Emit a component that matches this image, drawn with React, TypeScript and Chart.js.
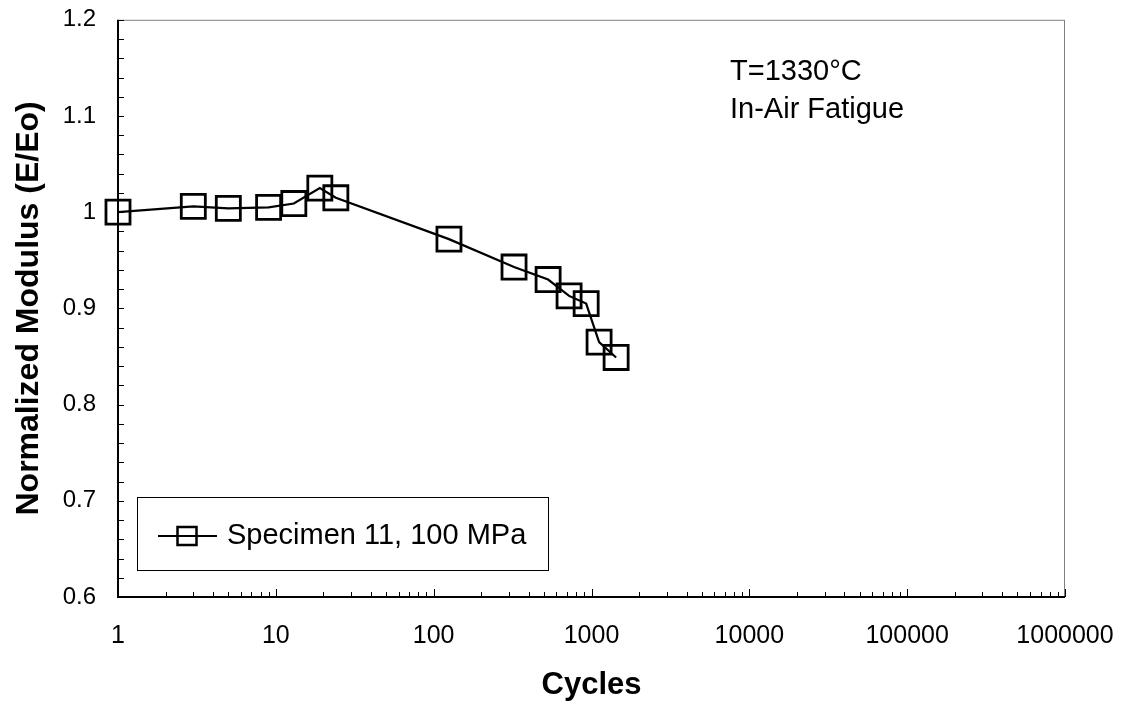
import React, { useEffect, useRef } from 'react';
import { Chart, registerables } from 'chart.js';

Chart.register(...registerables);

// ---- data ----
const cycles = [1, 3, 5, 9, 13, 19, 24, 125, 323, 531, 721, 925, 1117, 1432];
const modulus = [1.0, 1.006, 1.004, 1.005, 1.009, 1.025, 1.015, 0.972, 0.943, 0.93, 0.913, 0.905, 0.865, 0.849];
const seriesLabel = 'Specimen 11, 100 MPa';
const xTickValues = [1, 10, 100, 1000, 10000, 100000, 1000000];
const yTickValues = [0.6, 0.7, 0.8, 0.9, 1.0, 1.1, 1.2];
const yMinorStep = 0.02;
const xMinorMultipliers = [2, 3, 4, 5, 6, 7, 8, 9];
const annotationLines = ['T=1330°C', 'In-Air Fatigue'];
const xTitle = 'Cycles';
const yTitle = 'Normalized Modulus (E/Eo)';

const FONT = '"Liberation Sans", Arial, sans-serif';

const decorPlugin = {
  id: 'decor',
  beforeDatasetsDraw(chart: any) {
    const { ctx, chartArea: a, scales } = chart;
    const xs = scales.x;
    const ys = scales.y;
    ctx.save();
    // plot border
    ctx.strokeStyle = '#808080';
    ctx.lineWidth = 1;
    ctx.strokeRect(a.left + 0.5, a.top + 0.5, a.right - a.left - 1, a.bottom - a.top - 1);
    // ticks
    ctx.strokeStyle = '#000';
    ctx.lineWidth = 1;
    ctx.beginPath();
    const yMin = yTickValues[0];
    const yMax = yTickValues[yTickValues.length - 1];
    const nY = Math.round((yMax - yMin) / yMinorStep);
    for (let i = 0; i <= nY; i++) {
      const v = yMin + i * yMinorStep;
      const y = Math.round(ys.getPixelForValue(v)) + 0.5;
      ctx.moveTo(a.left, y);
      ctx.lineTo(a.left + 6, y);
    }
    const xMax = xTickValues[xTickValues.length - 1];
    for (const d of xTickValues) {
      const x = Math.round(xs.getPixelForValue(d)) + 0.5;
      ctx.moveTo(x, a.bottom);
      ctx.lineTo(x, a.bottom - 8);
      for (const m of xMinorMultipliers) {
        const v = d * m;
        if (v > xMax) continue;
        const xm = Math.round(xs.getPixelForValue(v)) + 0.5;
        ctx.moveTo(xm, a.bottom);
        ctx.lineTo(xm, a.bottom - 5);
      }
    }
    ctx.stroke();
    // axis lines
    ctx.lineWidth = 2;
    ctx.beginPath();
    ctx.moveTo(a.left, a.top);
    ctx.lineTo(a.left, a.bottom);
    ctx.lineTo(a.right, a.bottom);
    ctx.stroke();
    ctx.restore();
  },
  afterDraw(chart: any) {
    const { ctx } = chart;
    ctx.save();
    // annotation
    ctx.fillStyle = '#000';
    ctx.font = `29px ${FONT}`;
    ctx.textAlign = 'left';
    ctx.textBaseline = 'alphabetic';
    annotationLines.forEach((t, i) => ctx.fillText(t, 730, 80 + i * 38));
    // legend
    const bx = 137.5, by = 497.5, bw = 411, bh = 73;
    ctx.fillStyle = '#fff';
    ctx.fillRect(bx, by, bw, bh);
    ctx.strokeStyle = '#000';
    ctx.lineWidth = 1;
    ctx.strokeRect(bx, by, bw, bh);
    const ly = 536;
    ctx.lineWidth = 2;
    ctx.beginPath();
    ctx.moveTo(158, ly);
    ctx.lineTo(217, ly);
    ctx.stroke();
    ctx.lineWidth = 2.5;
    ctx.strokeRect(187 - 9.5, ly - 9, 19, 18);
    ctx.fillStyle = '#000';
    ctx.font = `29px ${FONT}`;
    ctx.textBaseline = 'middle';
    ctx.fillText(chart.data.datasets[0].label, 227, ly);
    ctx.restore();
  },
};

export default function App() {
  const ref = useRef<HTMLCanvasElement | null>(null);
  useEffect(() => {
    document.body.style.margin = '0';
    const canvas = ref.current!;
    const chart = new Chart(canvas, {
      type: 'line',
      data: {
        datasets: [
          {
            label: seriesLabel,
            data: cycles.map((c, i) => ({ x: c, y: modulus[i] })),
            borderColor: '#000',
            borderWidth: 2.2,
            tension: 0,
            pointStyle: 'rect',
            pointRadius: 17,
            pointHoverRadius: 17,
            pointBorderWidth: 2.8,
            pointBorderColor: '#000',
            pointBackgroundColor: 'rgba(0,0,0,0)',
            clip: false as any,
          },
        ],
      },
      options: {
        responsive: false,
        animation: false,
        events: [],
        layout: { padding: { left: 0, top: 18, right: 58, bottom: 0 } },
        plugins: {
          legend: { display: false },
          tooltip: { enabled: false },
        },
        scales: {
          x: {
            type: 'logarithmic',
            min: xTickValues[0],
            max: xTickValues[xTickValues.length - 1],
            grid: { display: false, drawTicks: false },
            border: { display: false },
            afterBuildTicks: (s: any) => {
              s.ticks = xTickValues.map((v) => ({ value: v }));
            },
            afterFit: (s: any) => {
              s.height = 107;
              s.paddingLeft = 0;
              s.paddingRight = 0;
            },
            ticks: {
              autoSkip: false,
              maxRotation: 0,
              minRotation: 0,
              padding: 24,
              color: '#000',
              font: { family: FONT, size: 25 },
              callback: (v: any) => String(v),
            },
            title: {
              display: true,
              text: xTitle,
              color: '#000',
              font: { family: FONT, size: 31, weight: 'bold' },
              padding: { top: 0, bottom: 0 },
            },
          },
          y: {
            type: 'linear',
            min: yTickValues[0],
            max: yTickValues[yTickValues.length - 1],
            grid: { display: false, drawTicks: false },
            border: { display: false },
            afterBuildTicks: (s: any) => {
              s.ticks = yTickValues.map((v) => ({ value: v }));
            },
            afterFit: (s: any) => {
              s.width = 118;
              s.paddingTop = 0;
              s.paddingBottom = 0;
            },
            ticks: {
              padding: 22,
              color: '#000',
              font: { family: FONT, size: 24 },
              callback: (v: any) => String(Math.round(Number(v) * 10) / 10),
            },
            title: {
              display: true,
              text: yTitle,
              color: '#000',
              font: { family: FONT, size: 32, weight: 'bold' },
              padding: { top: 10, bottom: 0 },
            },
          },
        },
      } as any,
      plugins: [decorPlugin],
    });
    return () => chart.destroy();
  }, []);
  return (
    <canvas
      ref={ref}
      width={1123}
      height={704}
      style={{ display: 'block', width: '1123px', height: '704px', background: '#fff' }}
    />
  );
}
